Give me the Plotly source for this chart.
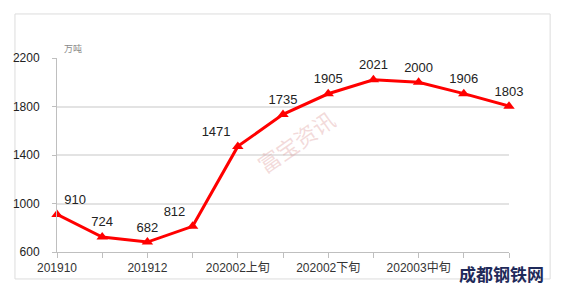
import plotly.graph_objects as go

categories = ["201910", "201911", "201912", "202001", "202002上旬", "202002中旬",
              "202002下旬", "202003上旬", "202003中旬", "202003下旬", "202004上旬"]
values = [910, 724, 682, 812, 1471, 1735, 1905, 2021, 2000, 1906, 1803]
tick_labels = ["201910", "", "201912", "", "202002上旬", "", "202002下旬", "", "202003中旬", "", ""]
y_ticks = [600, 1000, 1400, 1800, 2200]

font_family = "Liberation Sans, Arial, Noto Sans CJK SC, sans-serif"

text_pos = ["top right", "top center", "top center", "top left", "top left"] + ["top center"] * (len(values) - 5)

fig = go.Figure()
fig.add_trace(go.Scatter(
    x=categories, y=values,
    mode="lines+markers+text",
    line=dict(color="#ff0000", width=3),
    marker=dict(symbol="triangle-up", size=10, color="#ff0000"),
    text=[str(v) for v in values],
    textposition=text_pos,
    textfont=dict(size=13, color="#222222", family=font_family),
    cliponaxis=False,
    showlegend=False,
))

fig.update_layout(
    width=572, height=291,
    margin=dict(l=57, r=63, t=58, b=39),
    paper_bgcolor="white", plot_bgcolor="white",
    font=dict(family=font_family, size=12, color="#222222"),
    xaxis=dict(
        type="category", range=[0, len(categories) - 1],
        tickmode="array", tickvals=categories, ticktext=tick_labels,
        ticks="outside", ticklen=5, tickcolor="#bfbfbf",
        showline=True, linecolor="#bfbfbf", linewidth=1,
        showgrid=False, tickfont=dict(size=12, color="#333333"),
    ),
    yaxis=dict(
        range=[600, 2200], tickmode="array", tickvals=y_ticks,
        ticks="outside", ticklen=4, tickcolor="#bfbfbf",
        showline=True, linecolor="#bfbfbf", linewidth=1,
        showgrid=True, gridcolor="#e3e3e3", gridwidth=1.5,
        zeroline=False, tickfont=dict(size=12, color="#222222"),
        ticklabelstandoff=10,
    ),
    shapes=[dict(type="rect", xref="paper", yref="paper",
                 x0=-0.093, x1=1.091, y0=-0.139, y1=1.227,
                 line=dict(color="#dcdcdc", width=1), layer="below")],
    annotations=[
        dict(text="万吨", xref="paper", yref="paper", x=0.01, y=1.01,
             xanchor="left", yanchor="bottom", showarrow=False,
             font=dict(size=9, color="#888888")),
        dict(text="富宝资讯", xref="paper", yref="paper", x=0.53, y=0.56,
             showarrow=False, textangle=-35,
             font=dict(size=22, color="rgba(220,150,150,0.35)")),
        dict(text="<b>成都钢铁网</b>", xref="paper", yref="paper", x=0.885, y=-0.055,
             xanchor="left", yanchor="top", showarrow=False,
             font=dict(size=17, color="#1f2a5a")),
    ],
)

fig.write_html("out.html")
